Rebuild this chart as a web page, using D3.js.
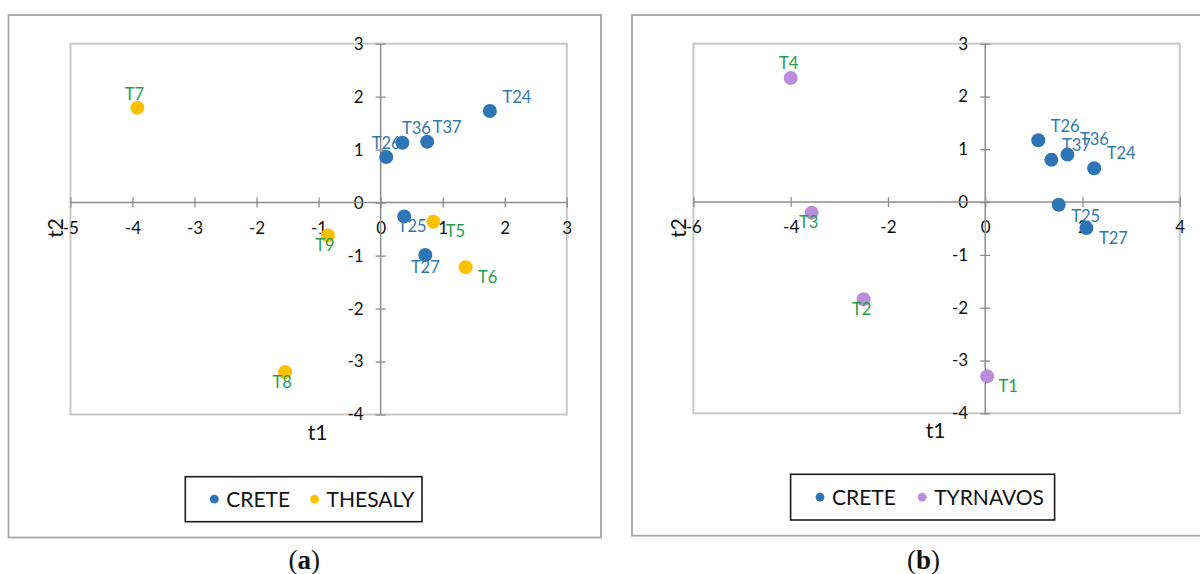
<!DOCTYPE html>
<html>
<head>
<meta charset="utf-8">
<script src="https://cdn.jsdelivr.net/npm/d3@7"></script>
<style>
  html, body { margin: 0; padding: 0; background: #fff; }
  svg { display: block; }
  text { font-family: Lato, "Open Sans", sans-serif; }
</style>
</head>
<body>
<svg id="chart" width="1200" height="574"></svg>
<script>
// ---- Panel (a): CRETE vs THESALY score plot ----
const panelA_creteLabels   = ["T24", "T37", "T36", "T26", "T25", "T27"];
const panelA_creteT1       = [1.76, 0.75, 0.35, 0.09, 0.38, 0.72];
const panelA_creteT2       = [1.73, 1.15, 1.13, 0.86, -0.26, -0.99];
const panelA_thesalyLabels = ["T7", "T5", "T9", "T6", "T8"];
const panelA_thesalyT1     = [-3.92, 0.85, -0.85, 1.37, -1.54];
const panelA_thesalyT2     = [1.79, -0.36, -0.62, -1.22, -3.20];
const panelA_xTicks        = [-5, -4, -3, -2, -1, 0, 1, 2, 3];

// ---- Panel (b): CRETE vs TYRNAVOS score plot ----
const panelB_creteLabels    = ["T26", "T37", "T36", "T24", "T25", "T27"];
const panelB_creteT1        = [1.09, 1.36, 1.69, 2.24, 1.51, 2.08];
const panelB_creteT2        = [1.17, 0.80, 0.90, 0.64, -0.05, -0.49];
const panelB_tyrnavosLabels = ["T4", "T3", "T2", "T1"];
const panelB_tyrnavosT1     = [-4.00, -3.57, -2.50, 0.04];
const panelB_tyrnavosT2     = [2.35, -0.20, -1.84, -3.30];
const panelB_xTicks         = [-6, -4, -2, 0, 2, 4];

const yTicks = [-4, -3, -2, -1, 0, 1, 2, 3];

// colours
const BLUE = "#2E75B6", YELLOW = "#FFC000", PURPLE = "#BB8EDD";
const BLUE_TEXT = "#2F79AD", GREEN_TEXT = "#1E9E4E";

// data-label nudges (px from the marker centre)
const labelNudgeA = {
  T24: [27, -14], T37: [20, -14], T36: [14, -15], T26: [0, -14], T25: [8, 10], T27: [0, 12],
  T7: [-3, -14], T5: [22, 10], T9: [-3, 10], T6: [22, 10], T8: [-3, 10]
};
const labelNudgeB = {
  T26: [27, -14], T37: [25, -15], T36: [27, -15], T24: [27, -15], T25: [27, 11], T27: [27, 10],
  T4: [-2, -15], T3: [-3, 10], T2: [-2, 10], T1: [21, 10]
};

const svg = d3.select("#chart");

function zip(labels, t1, t2) {
  return labels.map((l, i) => ({ label: l, t1: t1[i], t2: t2[i] }));
}

function drawPanel(p) {
  const g = svg.append("g");

  // outer chart frame
  g.append("rect")
    .attr("x", p.frame[0]).attr("y", p.frame[1])
    .attr("width", p.frame[2]).attr("height", p.frame[3])
    .attr("fill", "#fff").attr("stroke", "#A6A6A6").attr("stroke-width", 1.8);

  const x = d3.scaleLinear().domain(p.xDomain).range(p.xRange);
  const y = d3.scaleLinear().domain([-4, 3]).range(p.yRange);

  // plot area border
  g.append("rect")
    .attr("x", p.xRange[0]).attr("y", p.yRange[1])
    .attr("width", p.xRange[1] - p.xRange[0]).attr("height", p.yRange[0] - p.yRange[1])
    .attr("fill", "none").attr("stroke", "#C9C9C9").attr("stroke-width", 2);

  const axisColor = "#8C8C8C";

  // horizontal axis through t2 = 0, with ticks crossing the line
  const xAxis = g.append("g")
    .attr("transform", `translate(0,${y(0) - 5})`)
    .call(d3.axisBottom(x).tickValues(p.xTicks).tickSize(10).tickPadding(14)
      .tickFormat(d3.format("d")));
  // vertical axis through t1 = 0
  const yAxis = g.append("g")
    .attr("transform", `translate(${x(0) + 5},0)`)
    .call(d3.axisLeft(y).tickValues(yTicks).tickSize(10).tickPadding(12)
      .tickFormat(d3.format("d")));

  [xAxis, yAxis].forEach(a => {
    a.select(".domain").remove();
    a.selectAll(".tick line").attr("stroke", axisColor).attr("stroke-width", 1.3);
    a.selectAll(".tick text")
      .attr("fill", "#111").style("font-size", "17px")
      .style("font-family", "Lato, sans-serif");
  });
  // plain hyphen-minus for negative tick values
  g.selectAll(".tick text").text(d => (d < 0 ? "-" : "") + Math.abs(d));

  g.append("line")
    .attr("x1", p.xRange[0]).attr("x2", p.xRange[1])
    .attr("y1", y(0)).attr("y2", y(0))
    .attr("stroke", axisColor).attr("stroke-width", 1.5);
  g.append("line")
    .attr("x1", x(0)).attr("x2", x(0))
    .attr("y1", p.yRange[1]).attr("y2", p.yRange[0])
    .attr("stroke", axisColor).attr("stroke-width", 1.5);

  // axis titles
  g.append("text")
    .attr("x", p.t1Pos[0]).attr("y", p.t1Pos[1]).attr("dy", "0.35em")
    .attr("text-anchor", "middle").style("font-size", "21px").attr("fill", "#111")
    .text("t1");
  g.append("text")
    .attr("transform", `translate(${p.t2Pos[0]},${p.t2Pos[1]}) rotate(-90)`)
    .attr("dy", "0.35em")
    .attr("text-anchor", "middle").style("font-size", "21px").attr("fill", "#111")
    .text("t2");

  // series markers then data labels
  p.series.forEach(s => {
    g.append("g").selectAll("circle").data(s.data).join("circle")
      .attr("cx", d => x(d.t1)).attr("cy", d => y(d.t2))
      .attr("r", 7).attr("fill", s.color);
  });
  p.series.forEach(s => {
    g.append("g").selectAll("text").data(s.data).join("text")
      .attr("x", d => x(d.t1) + p.nudge[d.label][0])
      .attr("y", d => y(d.t2) + p.nudge[d.label][1])
      .attr("dy", "0.35em").attr("text-anchor", "middle")
      .style("font-size", "16.5px").attr("fill", s.textColor)
      .text(d => d.label);
  });

  // legend
  const lg = g.append("g");
  lg.append("rect")
    .attr("x", p.legend.box[0]).attr("y", p.legend.box[1])
    .attr("width", p.legend.box[2]).attr("height", p.legend.box[3])
    .attr("fill", "#fff").attr("stroke", "#1a1a1a").attr("stroke-width", 1.6);
  const cy = p.legend.box[1] + p.legend.box[3] / 2;
  p.series.forEach((s, i) => {
    const dx = p.legend.dots[i];
    lg.append("circle").attr("cx", dx).attr("cy", cy).attr("r", 4.4).attr("fill", s.color);
    lg.append("text").attr("x", dx + 12).attr("y", cy).attr("dy", "0.36em")
      .style("font-size", "21px").attr("fill", "#111").text(s.name);
  });

  // panel caption
  const cap = g.append("text")
    .attr("x", p.caption[0]).attr("y", p.caption[1]).attr("dy", "0.35em")
    .attr("text-anchor", "middle")
    .style("font-family", "'Liberation Serif', 'DejaVu Serif', serif")
    .style("font-size", "27px").attr("fill", "#111");
  cap.append("tspan").text("(");
  cap.append("tspan").attr("font-weight", "bold").text(p.letter);
  cap.append("tspan").text(")");
}

drawPanel({
  frame: [8.5, 15, 592.5, 522.5],
  xDomain: [-5, 3], xRange: [70.4, 566.8], yRange: [414.5, 43.7],
  xTicks: panelA_xTicks,
  t1Pos: [317.6, 432.5], t2Pos: [55.5, 228],
  nudge: labelNudgeA,
  series: [
    { name: "CRETE", color: BLUE, textColor: BLUE_TEXT,
      data: zip(panelA_creteLabels, panelA_creteT1, panelA_creteT2) },
    { name: "THESALY", color: YELLOW, textColor: GREEN_TEXT,
      data: zip(panelA_thesalyLabels, panelA_thesalyT1, panelA_thesalyT2) }
  ],
  legend: { box: [185.3, 476.7, 236.7, 45], dots: [214.3, 314.6] },
  caption: [304.3, 560], letter: "a"
});

drawPanel({
  frame: [632, 15, 580, 520.7],
  xDomain: [-6, 4], xRange: [693.4, 1179.8], yRange: [413.3, 43.7],
  xTicks: panelB_xTicks,
  t1Pos: [935.6, 430.5], t2Pos: [678.5, 228],
  nudge: labelNudgeB,
  series: [
    { name: "CRETE", color: BLUE, textColor: BLUE_TEXT,
      data: zip(panelB_creteLabels, panelB_creteT1, panelB_creteT2) },
    { name: "TYRNAVOS", color: PURPLE, textColor: GREEN_TEXT,
      data: zip(panelB_tyrnavosLabels, panelB_tyrnavosT1, panelB_tyrnavosT2) }
  ],
  legend: { box: [790.6, 474.3, 264, 45.7], dots: [820, 922.2] },
  caption: [923.4, 560], letter: "b"
});
</script>
</body>
</html>
